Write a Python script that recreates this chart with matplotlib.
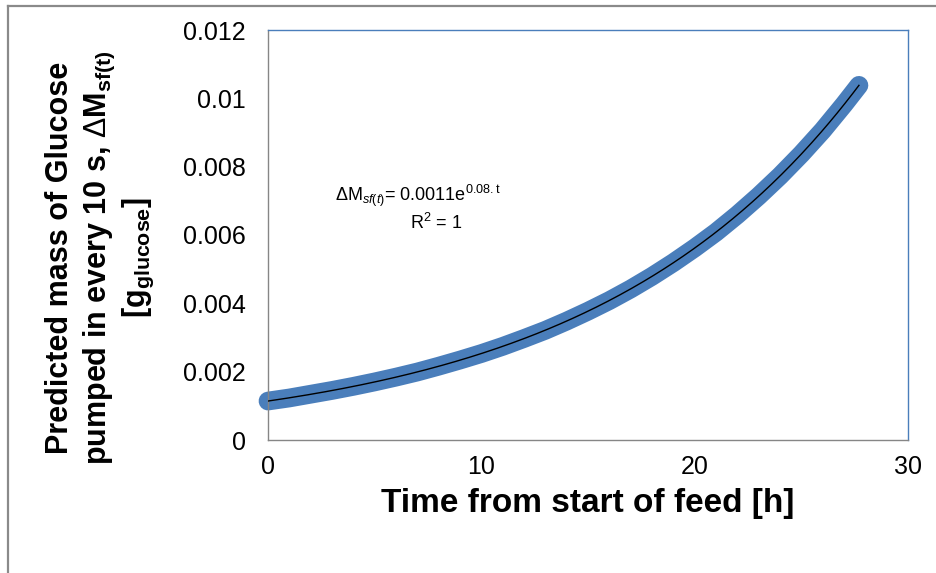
import numpy as np
import matplotlib
matplotlib.use("Agg")
import matplotlib.pyplot as plt
from matplotlib.lines import Line2D

plt.rcParams["font.family"] = ["Liberation Sans", "DejaVu Sans"]
plt.rcParams["mathtext.fontset"] = "custom"
plt.rcParams["mathtext.rm"] = "Liberation Sans"
plt.rcParams["mathtext.it"] = "Liberation Sans:italic"
plt.rcParams["mathtext.bf"] = "Liberation Sans:bold"
plt.rcParams["mathtext.sf"] = "Liberation Sans"

# Predicted glucose mass pumped per 10 s interval vs feed time
time_h = [0, 1, 2, 3, 4, 5, 6, 7, 8, 9, 10, 11, 12, 13, 14, 15, 16, 17, 18,
          19, 20, 21, 22, 23, 24, 25, 26, 27, 27.7]
mass_g = [0.00114, 0.00123, 0.00134, 0.00145, 0.00157, 0.00170, 0.00184,
          0.00199, 0.00216, 0.00234, 0.00253, 0.00274, 0.00297, 0.00321,
          0.00348, 0.00377, 0.00408, 0.00442, 0.00479, 0.00519, 0.00562,
          0.00608, 0.00659, 0.00714, 0.00773, 0.00837, 0.00906, 0.00982,
          0.01038]

x_ticks = [0, 10, 20, 30]
y_ticks = [0, 0.002, 0.004, 0.006, 0.008, 0.01, 0.012]
y_tick_labels = ["0", "0.002", "0.004", "0.006", "0.008", "0.01", "0.012"]

W, H = 936, 573
fig = plt.figure(figsize=(W / 100, H / 100), dpi=100)
fig.patch.set_facecolor("white")

# outer chart-area frame (left and top edges)
frame_c = "#8a8a8a"
fig.add_artist(Line2D([8 / W, 8 / W], [0, 1 - 6 / H], transform=fig.transFigure,
                      color=frame_c, lw=1.6))
fig.add_artist(Line2D([8 / W, 1], [1 - 6 / H, 1 - 6 / H], transform=fig.transFigure,
                      color=frame_c, lw=1.6))

left, right, top, bottom = 268, 908, 30, 440
ax = fig.add_axes([left / W, 1 - bottom / H, (right - left) / W, (bottom - top) / H])

t = np.array(time_h)
m = np.array(mass_g)

# data series: dense markers drawn as a thick band
ax.plot(t, m, color="#4a7ebb", lw=13.5, solid_capstyle="round",
        solid_joinstyle="round", clip_on=False, zorder=2)

# exponential trendline fitted to the series
k, ln_a = np.polyfit(t, np.log(m), 1)
tt = np.linspace(t.min(), t.max(), 300)
ax.plot(tt, np.exp(ln_a) * np.exp(k * tt), color="black", lw=1.0, zorder=3)

ax.set_xlim(0, 30)
ax.set_ylim(0, 0.012)
ax.set_xticks(x_ticks)
ax.set_xticklabels([str(v) for v in x_ticks])
ax.set_yticks(y_ticks)
ax.set_yticklabels(y_tick_labels)
ax.tick_params(axis="both", length=0, labelsize=18, colors="black")
ax.tick_params(axis="x", pad=11)
ax.tick_params(axis="y", pad=16)

for s in ("left", "bottom"):
    ax.spines[s].set_color("#868686")
    ax.spines[s].set_linewidth(1.0)
for s in ("top", "right"):
    ax.spines[s].set_color("#4a7ebb")
    ax.spines[s].set_linewidth(1.0)

# trendline equation
fig.text(418 / W, 1 - 201 / H,
         r"$\mathrm{\Delta M}_{\mathit{sf(t)}}$= 0.0011e$^{\mathrm{0.08.t}}$",
         fontsize=13, ha="center", va="baseline")
fig.text(436 / W, 1 - 229 / H, r"R$^{2}$ = 1", fontsize=13, ha="center",
         va="baseline")

# axis titles
fig.text(588 / W, 1 - 512 / H, "Time from start of feed [h]", fontsize=24,
         fontweight="bold", ha="center", va="baseline")

ymid = 1 - 258 / H
fig.text(60 / W, ymid, "Predicted mass of Glucose", fontsize=22,
         fontweight="bold", rotation=90, ha="center", va="center")
fig.text(99 / W, ymid,
         r"pumped in every 10 s, $\mathrm{\Delta}\mathbf{M}_{\mathbf{sf(t)}}$",
         fontsize=22, fontweight="bold", rotation=90, ha="center", va="center")
fig.text(138 / W, ymid, r"[g$_{\mathbf{glucose}}$]", fontsize=22,
         fontweight="bold", rotation=90, ha="center", va="center")

fig.savefig("out.png", dpi=100, facecolor="white")
